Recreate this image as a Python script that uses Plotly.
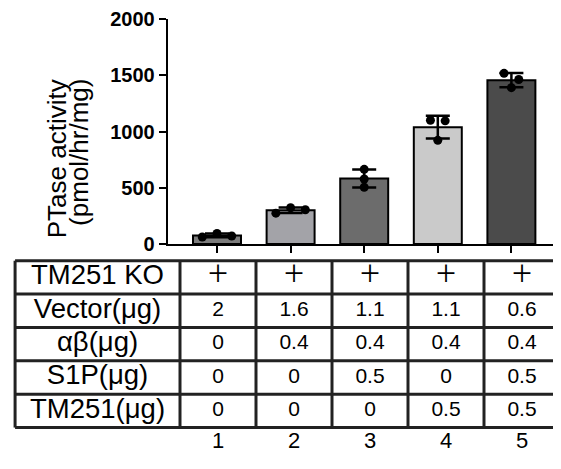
import numpy as np
import plotly.graph_objects as go

# ---------------- data ----------------
lanes = [1, 2, 3, 4, 5]
replicates = [
    [63, 95, 72],
    [275, 323, 305],
    [664, 578, 505],
    [1100, 1095, 922],
    [1517, 1462, 1390],
]
jitter = [[-0.2, 0, 0.2], [-0.2, 0, 0.2], [0, 0, 0], [-0.1, 0.1, 0], [-0.1, 0.1, 0]]
bar_colors = ["#7c7c7c", "#a3a3a8", "#6c6c6c", "#cacaca", "#4b4b4b"]
y_ticks = [0, 500, 1000, 1500, 2000]

row_labels = ["TM251 KO", "Vector(μg)", "αβ(μg)", "S1P(μg)", "TM251(μg)"]
row_ko = ["+", "+", "+", "+", "+"]
row_vector = ["2", "1.6", "1.1", "1.1", "0.6"]
row_ab = ["0", "0.4", "0.4", "0.4", "0.4"]
row_s1p = ["0", "0", "0.5", "0", "0.5"]
row_tm251 = ["0", "0", "0", "0.5", "0.5"]
lane_labels = ["1", "2", "3", "4", "5"]

means = [float(np.mean(r)) for r in replicates]
sds = [float(np.std(r, ddof=1)) for r in replicates]

FONT = "Liberation Sans, Arial, Helvetica, sans-serif"
# The page keeps the browser's default 8px body margin, so the figure is
# sized to fill the 561x469 window exactly inside that margin.
OFF = 8
WIN_W, WIN_H = 561, 469
W, H = WIN_W - 2 * OFF, WIN_H - 2 * OFF
TOP = 19.3                      # window px of the top of the value axis
MT = TOP - OFF
PH = H - MT


def px_x(a):                    # window px -> paper x
    return (a - OFF) / W


def px_y(a):                    # window px -> paper y
    return (WIN_H - OFF - a) / PH


fig = go.Figure()

# bars with SD error bars
fig.add_trace(go.Bar(
    x=lanes, y=means, width=0.652,
    marker=dict(color=bar_colors, line=dict(color="black", width=2)),
    error_y=dict(type="data", array=sds, visible=True, color="black",
                 thickness=2.5, width=12),
    xaxis="x", yaxis="y", hoverinfo="skip",
))

# individual points
pts_x, pts_y = [], []
for lane, reps, jit in zip(lanes, replicates, jitter):
    for v, j in zip(reps, jit):
        pts_x.append(lane + j)
        pts_y.append(v)
fig.add_trace(go.Scatter(
    x=pts_x, y=pts_y, mode="markers",
    marker=dict(color="black", size=9),
    xaxis="x", yaxis="y", hoverinfo="skip",
))

# ---------------- table ----------------
label_col_width = 2.17
left_edge = 0.5 - label_col_width
right_edge = 5.5
n_rows = len(row_labels)
rows = [row_ko, row_vector, row_ab, row_s1p, row_tm251]

line_style = dict(color="#222222", width=3)
for r in range(n_rows + 1):
    fig.add_shape(type="line", xref="x2", yref="y2",
                  x0=left_edge, x1=right_edge, y0=r - 0.5, y1=r - 0.5,
                  line=line_style)
for c in [left_edge] + [lane - 0.5 for lane in lanes] + [right_edge]:
    fig.add_shape(type="line", xref="x2", yref="y2",
                  x0=c, x1=c, y0=-0.5, y1=n_rows - 0.5,
                  line=line_style)

label_x = (left_edge + 0.5) / 2
fig.add_trace(go.Scatter(
    x=[label_x] * n_rows, y=list(range(n_rows)), text=row_labels,
    mode="text", textposition="middle center",
    textfont=dict(family=FONT, size=27.5, color="black"),
    xaxis="x2", yaxis="y2", hoverinfo="skip",
))
for r, vals in enumerate(rows):
    if r == 0:
        tf = dict(family="Noto Sans, " + FONT, size=36, color="black", weight=300)
    else:
        tf = dict(family=FONT, size=21, color="black")
    fig.add_trace(go.Scatter(
        x=lanes, y=[r] * len(lanes), text=vals,
        mode="text", textposition="middle center",
        textfont=tf,
        xaxis="x2", yaxis="y2", hoverinfo="skip",
    ))
fig.add_trace(go.Scatter(
    x=lanes, y=[n_rows - 0.06] * len(lanes), text=lane_labels,
    mode="text", textposition="middle center",
    textfont=dict(family=FONT, size=22, color="black"),
    xaxis="x2", yaxis="y2", hoverinfo="skip", cliponaxis=False,
))

# ---------------- y title ----------------
fig.add_annotation(text="PTase activity", xref="paper", yref="paper",
                   x=px_x(56.5), y=px_y(162.5), textangle=-90,
                   xanchor="center", yanchor="middle", showarrow=False,
                   font=dict(family=FONT, size=26, color="black"))
fig.add_annotation(text="(pmol/hr/mg)", xref="paper", yref="paper",
                   x=px_x(79.5), y=px_y(156), textangle=-90,
                   xanchor="center", yanchor="middle", showarrow=False,
                   font=dict(family=FONT, size=26, color="black"))

# axis geometry (window px): value-axis at x=167.7, baseline at y=250,
# lane 1 at x=217 with 73.6 px per lane; table column 1 at x=218, 76 px per
# column; table rows start at y=267, 34.2 px each.
lane_px, lane_step = 217, 73.6
col_px, col_step = 218, 76
row_top, row_step = 267, 34.2

fig.update_layout(
    width=W, height=H,
    margin=dict(l=0, r=0, t=MT, b=0, pad=0),
    plot_bgcolor="white", paper_bgcolor="white",
    showlegend=False,
    xaxis=dict(domain=[px_x(167.7), 1],
               range=[1 - (lane_px - 167.7) / lane_step,
                      1 + (WIN_W - OFF - lane_px) / lane_step],
               anchor="y",
               showline=True, linecolor="black", linewidth=2,
               ticks="outside", ticklen=7, tickwidth=2, tickcolor="black",
               tickvals=lanes, showticklabels=False,
               showgrid=False, zeroline=False),
    yaxis=dict(domain=[px_y(250), 1], range=[0, 2000], anchor="x",
               showline=True, linecolor="black", linewidth=2,
               ticks="outside", ticklen=7, tickwidth=2, tickcolor="black",
               tickvals=y_ticks,
               tickfont=dict(family=FONT, size=20, color="black", weight="bold"),
               showgrid=False, zeroline=False),
    xaxis2=dict(domain=[0, 1],
                range=[1 + (OFF - col_px) / col_step,
                       1 + (WIN_W - OFF - col_px) / col_step],
                anchor="y2", visible=False),
    yaxis2=dict(domain=[0, px_y(260)],
                range=[(WIN_H - OFF - row_top) / row_step - 0.5,
                       (260 - row_top) / row_step - 0.5],
                anchor="x2", visible=False),
)

fig.write_html("out.html", config={"displayModeBar": False})
